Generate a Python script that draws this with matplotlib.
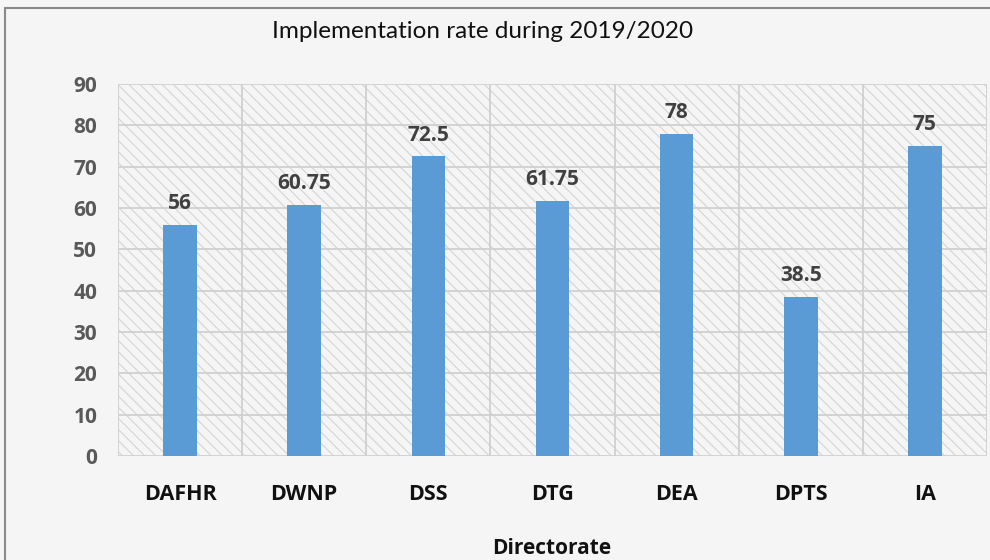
import matplotlib
matplotlib.use("Agg")
import matplotlib.pyplot as plt
from matplotlib.patches import Rectangle

categories = ["DAFHR", "DWNP", "DSS", "DTG", "DEA", "DPTS", "IA"]
values = [56, 60.75, 72.5, 61.75, 78, 38.5, 75]
value_labels = ["56", "60.75", "72.5", "61.75", "78", "38.5", "75"]
yticks = [0, 10, 20, 30, 40, 50, 60, 70, 80, 90]

plt.rcParams['font.family'] = ['Open Sans', 'DejaVu Sans']
plt.rcParams['hatch.linewidth'] = 0.8
BOLD = ['Open Sans', 'DejaVu Sans']

fig = plt.figure(figsize=(9.9, 5.6), dpi=100)
fig.patch.set_facecolor('#f5f5f5')

# outer chart border
fig.patches.append(Rectangle((5/990, -0.01), 1.0, 1 - 8/560 + 0.01, transform=fig.transFigure,
                             fill=False, edgecolor='#8a8a8a', linewidth=1.5, zorder=0))

ax = fig.add_axes([118/990, 1 - 456/560, 869/990, 372/560])
ax.set_facecolor('#f5f5f5')
n = len(categories)
ax.set_xlim(-0.5, n - 0.5)
ax.set_ylim(0, 90)

# hatched background
ax.add_patch(Rectangle((-0.5, 0), n, 90, facecolor='none', edgecolor='#d4d4d4',
                       hatch='\\\\\\', linewidth=0, zorder=0))

# grid lines
for y in yticks:
    ax.axhline(y, color='#d0d0d0', linewidth=1.3, zorder=1)
for i in range(n + 1):
    ax.axvline(i - 0.5, color='#d0d0d0', linewidth=1.3, zorder=1)

ax.bar(range(n), values, width=0.27, color='#5b9bd5', zorder=3)

for i, (v, lab) in enumerate(zip(values, value_labels)):
    ax.text(i, v + 2.6, lab, ha='center', va='bottom', fontsize=15, fontweight='bold',
            family=BOLD, color='#404040', zorder=4)

for s in ax.spines.values():
    s.set_visible(False)

ax.set_yticks(yticks)
ax.set_yticklabels([str(t) for t in yticks], fontsize=15, fontweight='bold', family=BOLD,
                   color='#595959')
ax.set_xticks(range(n))
ax.set_xticklabels(categories, fontsize=15.5, fontweight='bold', family=BOLD, color='#111111')
ax.tick_params(axis='both', length=0)
ax.tick_params(axis='y', pad=15)
ax.tick_params(axis='x', pad=20)

fig.text(552/990, 1 - 548/560, 'Directorate', ha='center', va='center', fontsize=15,
         fontweight='bold', family=BOLD, color='#111111')

fig.text(483/990, 1 - 31/560, 'Implementation rate during 2019/2020', ha='center', va='center',
         fontsize=17.5, family=['Liberation Sans Narrow', 'Lato', 'DejaVu Sans'], color='#111111')

fig.savefig('out.png', dpi=100, facecolor=fig.get_facecolor())
